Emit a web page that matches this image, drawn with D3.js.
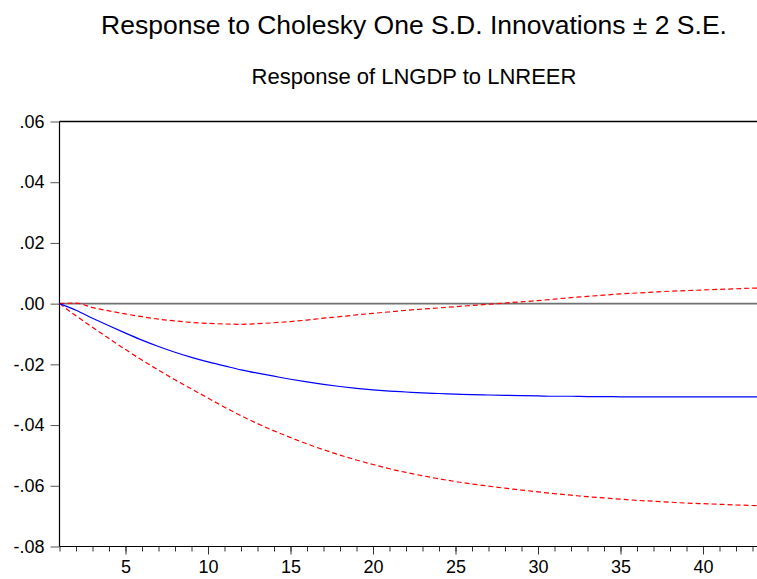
<!DOCTYPE html>
<html>
<head>
<meta charset="utf-8">
<script src="https://d3js.org/d3.v7.min.js"></script>
<style>
  body { margin: 0; background: #fff; }
  text { font-family: Arial, "Liberation Sans", sans-serif; fill: #000; }
</style>
</head>
<body>
<div class="chart"></div>
<script>
var periods = d3.range(1, 45);

// impulse response of LNGDP to LNREER
var response = [0, -0.0022, -0.0048, -0.0073, -0.0097, -0.0120, -0.0141, -0.0160, -0.0177, -0.0192,
  -0.0205, -0.0218, -0.0229, -0.0239, -0.0249, -0.0258, -0.0266, -0.0273, -0.0279, -0.0284,
  -0.0288, -0.0291, -0.0294, -0.0296, -0.0298, -0.0300, -0.0301, -0.0302, -0.0303, -0.0304,
  -0.0305, -0.0305, -0.0306, -0.0306, -0.0307, -0.0307, -0.0307, -0.0307, -0.0307, -0.0307,
  -0.0307, -0.0307, -0.0307, -0.0307];

var upper = [0, 0.0002, -0.0013, -0.0024, -0.0034, -0.0043, -0.0051, -0.0057, -0.0062, -0.0065,
  -0.0067, -0.0068, -0.0066, -0.0063, -0.0059, -0.0054, -0.0048, -0.0043, -0.0037, -0.0032,
  -0.0027, -0.0022, -0.0018, -0.0014, -0.0010, -0.0006, -0.0002, 0.0002, 0.0006, 0.0010,
  0.0015, 0.0020, 0.0024, 0.0028, 0.0032, 0.0035, 0.0038, 0.0041, 0.0043, 0.0045,
  0.0047, 0.0049, 0.0051, 0.0052];

var lower = [0, -0.0040, -0.0078, -0.0115, -0.0151, -0.0186, -0.0219, -0.0251, -0.0281, -0.0311,
  -0.0341, -0.0369, -0.0395, -0.0419, -0.0441, -0.0462, -0.0481, -0.0499, -0.0515, -0.0530,
  -0.0544, -0.0556, -0.0567, -0.0577, -0.0586, -0.0594, -0.0601, -0.0608, -0.0614, -0.0620,
  -0.0626, -0.0631, -0.0636, -0.0640, -0.0644, -0.0648, -0.0651, -0.0654, -0.0657, -0.0659,
  -0.0661, -0.0663, -0.0665, -0.0666];

var yTicks = [0.06, 0.04, 0.02, 0.00, -0.02, -0.04, -0.06, -0.08];
var xTicks = [5, 10, 15, 20, 25, 30, 35, 40];

var width = 757,
    height = 579;

var plotLeft = 59.5, plotTop = 121.5, plotBottom = 546.5;

var x = d3.scaleLinear()
    .domain([1, 48])
    .range([plotLeft, plotLeft + 47 * 16.5]);

var y = d3.scaleLinear()
    .domain([-0.08, 0.06])
    .range([plotBottom, plotTop]);

var svg = d3.select(".chart").append("svg")
    .attr("width", width)
    .attr("height", height);

// titles
svg.append("text")
  .attr("x", 414)
  .attr("y", 34)
  .attr("text-anchor", "middle")
  .style("font-size", "26.5px")
  .text("Response to Cholesky One S.D. Innovations \u00b1 2 S.E.");

svg.append("text")
  .attr("x", 414)
  .attr("y", 84)
  .attr("text-anchor", "middle")
  .style("font-size", "22px")
  .text("Response of LNGDP to LNREER");

// EViews style labels: ".02", "-.04"
function fmt(d) {
  return d3.format(".2f")(d).replace("\u2212", "-").replace("0.", ".");
}

// y axis
var yAxis = svg.append("g")
  .attr("transform", "translate(" + plotLeft + ",0)")
  .call(d3.axisLeft(y).tickValues(yTicks).tickSize(9).tickPadding(6).tickFormat(fmt));
yAxis.select(".domain").remove();
yAxis.selectAll("line").attr("stroke", "#555");
yAxis.selectAll("text").style("font-size", "18px").attr("fill", "#000");

// x axis: minor ticks every period, longer ones at multiples of 5
var xAxisMinor = svg.append("g")
  .attr("transform", "translate(0," + plotBottom + ")")
  .call(d3.axisBottom(x).tickValues(d3.range(1, 49)).tickSize(5).tickFormat(""));
xAxisMinor.select(".domain").remove();
xAxisMinor.selectAll("line").attr("stroke", "#333");

var xAxis = svg.append("g")
  .attr("transform", "translate(0," + plotBottom + ")")
  .call(d3.axisBottom(x).tickValues(xTicks).tickSize(8).tickPadding(6));
xAxis.select(".domain").remove();
xAxis.selectAll("line").attr("stroke", "#333");
xAxis.selectAll("text").style("font-size", "18px").attr("fill", "#000");

// zero line
svg.append("line")
  .attr("x1", plotLeft).attr("x2", width)
  .attr("y1", y(0)).attr("y2", y(0))
  .attr("stroke", "#707070")
  .attr("stroke-width", 1.6);

// frame
svg.append("line")
  .attr("x1", plotLeft).attr("x2", width)
  .attr("y1", plotTop).attr("y2", plotTop)
  .attr("stroke", "#000").attr("stroke-width", 1.5);
svg.append("line")
  .attr("x1", plotLeft).attr("x2", width)
  .attr("y1", plotBottom).attr("y2", plotBottom)
  .attr("stroke", "#000").attr("stroke-width", 1.2);
svg.append("line")
  .attr("x1", plotLeft).attr("x2", plotLeft)
  .attr("y1", plotTop).attr("y2", plotBottom)
  .attr("stroke", "#000").attr("stroke-width", 1.2);

var line = function(vals) {
  return d3.line()
    .x(function(d, i) { return x(periods[i]); })
    .y(function(d) { return y(d); })
    .curve(d3.curveMonotoneX)(vals);
};

svg.append("path")
  .attr("d", line(upper))
  .attr("fill", "none")
  .attr("stroke", "#ff0000")
  .attr("stroke-width", 1.2)
  .attr("stroke-dasharray", "5,3");

svg.append("path")
  .attr("d", line(lower))
  .attr("fill", "none")
  .attr("stroke", "#ff0000")
  .attr("stroke-width", 1.2)
  .attr("stroke-dasharray", "5,3");

svg.append("path")
  .attr("d", line(response))
  .attr("fill", "none")
  .attr("stroke", "#0000ff")
  .attr("stroke-width", 1.2);
</script>
</body>
</html>
